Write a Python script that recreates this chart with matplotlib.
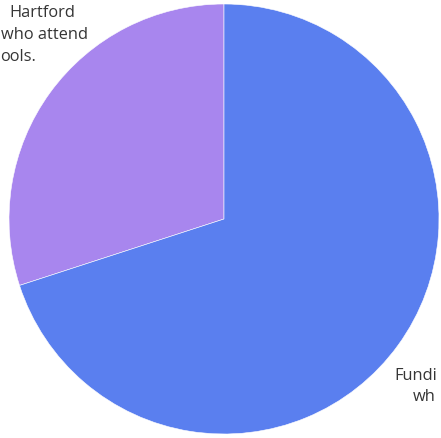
import matplotlib
matplotlib.use("Agg")
import matplotlib.pyplot as plt

# share of Hartford students
shares = [30, 70]
colors = ["#a886ee", "#5a7fef"]

# visible parts of the labels (the original chart is cropped)
label_left = ["Hartford", "who attend", "ools."]
label_right = ["Fundi", "wh"]

W, H = 441, 438
fig = plt.figure(figsize=(W / 100, H / 100), dpi=100)
ax = fig.add_axes([0, 0, 1, 1])

ax.pie(
    shares,
    colors=colors,
    startangle=90,
    counterclock=True,
    wedgeprops=dict(edgecolor="white", linewidth=0.4),
)

# pie centre at (224, 219) px, radius 215 px
r_px = 215.0
cx, cy = 224.0, 219.0
ax.set_aspect("auto")
ax.set_xlim(-cx / r_px, (W - cx) / r_px)
ax.set_ylim(-(H - cy) / r_px, cy / r_px)
ax.axis("off")

font = dict(family=["Open Sans", "DejaVu Sans"], fontsize=11.8, color="#353535")


def px_text(x, y, s, ha):
    fig.text(x / W, 1 - y / H, s, ha=ha, va="baseline", **font)


for x, y, s in zip([75, 88, 36], [17, 39, 61], label_left):
    px_text(x, y, s, "right")

for x, y, s in zip([394, 413], [380, 401], label_right):
    px_text(x, y, s, "left")

fig.savefig("out.png", dpi=100, facecolor="white")
